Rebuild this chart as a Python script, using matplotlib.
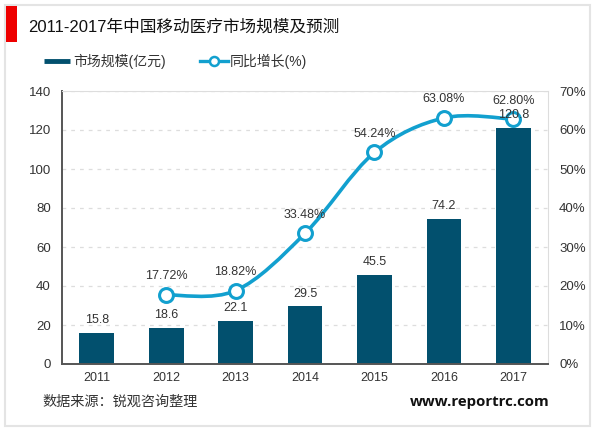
import matplotlib
matplotlib.use("Agg")
import matplotlib.pyplot as plt
from matplotlib.patches import Rectangle, PathPatch
from matplotlib.path import Path

plt.rcParams["font.family"] = ["Liberation Sans", "Noto Sans CJK SC", "DejaVu Sans"]

years = ["2011", "2012", "2013", "2014", "2015", "2016", "2017"]
market_size = [15.8, 18.6, 22.1, 29.5, 45.5, 74.2, 120.8]
growth_years = [1, 2, 3, 4, 5, 6]
growth = [17.72, 18.82, 33.48, 54.24, 63.08, 62.80]
growth_labels = ["17.72%", "18.82%", "33.48%", "54.24%", "63.08%", "62.80%"]
left_ticks = [0, 20, 40, 60, 80, 100, 120, 140]
right_ticks = [0, 10, 20, 30, 40, 50, 60, 70]

W, H = 600, 433
BAR = "#02506e"
LINE = "#12a0cf"
TEXT = "#333333"


def smooth_path(xs, ys):
    # same kind of smoothing as the office line charts
    verts = [(xs[0], ys[0])]
    codes = [Path.MOVETO]
    n = len(xs)
    for i in range(n - 1):
        x0, y0 = xs[max(i - 1, 0)], ys[max(i - 1, 0)]
        x3, y3 = xs[min(i + 2, n - 1)], ys[min(i + 2, n - 1)]
        verts.append((xs[i] + (xs[i + 1] - x0) / 6, ys[i] + (ys[i + 1] - y0) / 6))
        verts.append((xs[i + 1] - (x3 - xs[i]) / 6, ys[i + 1] - (y3 - ys[i]) / 6))
        verts.append((xs[i + 1], ys[i + 1]))
        codes += [Path.CURVE4] * 3
    return Path(verts, codes)


fig = plt.figure(figsize=(W / 100, H / 100), dpi=100)
fig.add_artist(Rectangle((5 / W, 1 - 426 / H), 585 / W, 421 / H, transform=fig.transFigure,
                         fc="white", ec="#e4e4e4", lw=1.5, zorder=-2))
fig.add_artist(Rectangle((6 / W, 1 - 42 / H), 11 / W, 36 / H, transform=fig.transFigure,
                         fc="#ee0000", ec="none", zorder=-1))
fig.text(28 / W, 1 - 27 / H, "2011-2017年中国移动医疗市场规模及预测", fontsize=12,
         color="#111111", va="center")

ax = fig.add_axes([62 / W, 1 - 364 / H, 486 / W, 273 / H])
ax.set_xlim(-0.5, 6.5)
ax.set_ylim(0, 140)
ax.bar(range(len(years)), market_size, width=0.5, color=BAR, zorder=2)
ax.set_xticks(range(len(years)), years)
ax.set_yticks(left_ticks)
ax.tick_params(axis="x", length=0, pad=6, labelsize=9, labelcolor=TEXT)
ax.tick_params(axis="y", length=0, pad=8, labelsize=9.5, labelcolor=TEXT)
ax.yaxis.grid(True, ls=(0, (3, 4)), color="#dddddd", lw=0.9, zorder=0)
ax.set_axisbelow(True)
for side in ["top", "right"]:
    ax.spines[side].set_color("#dddddd")
for side in ["left", "bottom"]:
    ax.spines[side].set_color("#555555")
    ax.spines[side].set_linewidth(1.4)

ax2 = ax.twinx()
ax2.set_ylim(0, 70)
ax2.set_yticks(right_ticks, [f"{t}%" for t in right_ticks])
ax2.tick_params(axis="y", length=0, pad=8, labelsize=9.5, labelcolor=TEXT)
for spine in ax2.spines.values():
    spine.set_visible(False)
ax2.add_patch(PathPatch(smooth_path(growth_years, growth), fc="none", ec=LINE, lw=2.6, zorder=3))
ax2.plot(growth_years, growth, ls="none", marker="o", ms=10, mfc="white", mec=LINE, mew=2.2, zorder=4)
for x, y, s in zip(growth_years, growth, growth_labels):
    ax2.annotate(s, (x, y), xytext=(0, 9), textcoords="offset points", ha="center",
                 va="bottom", fontsize=9, color=TEXT, zorder=6)
# bar labels go on the top axes too, 2017 sits over the marker
for i, v in enumerate(market_size):
    ax2.annotate(str(v), (i, v), xycoords=ax.transData, xytext=(0, 5), textcoords="offset points",
                 ha="center", va="bottom", fontsize=9, color=TEXT, zorder=6)

# legend drawn by hand so it sits like the original
leg = fig.add_axes([0, 0, 1, 1], facecolor="none")
leg.set_xlim(0, W)
leg.set_ylim(H, 0)
leg.axis("off")
leg.plot([44, 70], [61, 61], color=BAR, lw=3.5, solid_capstyle="butt")
leg.text(73, 61, "市场规模(亿元)", fontsize=10, color=TEXT, va="center")
leg.plot([200, 228], [61, 61], color=LINE, lw=2.4)
leg.plot([214], [61], marker="o", ms=6.5, mfc="white", mec=LINE, mew=1.8)
leg.text(230, 61, "同比增长(%)", fontsize=10, color=TEXT, va="center")
leg.text(42, 402, "数据来源：锐观咨询整理", fontsize=10.2, color=TEXT, va="center")
leg.text(550, 402, "www.reportrc.com", fontsize=10.8, fontweight="bold", color="#111111",
         va="center", ha="right", family="Open Sans")

fig.savefig("out.png", dpi=100)
